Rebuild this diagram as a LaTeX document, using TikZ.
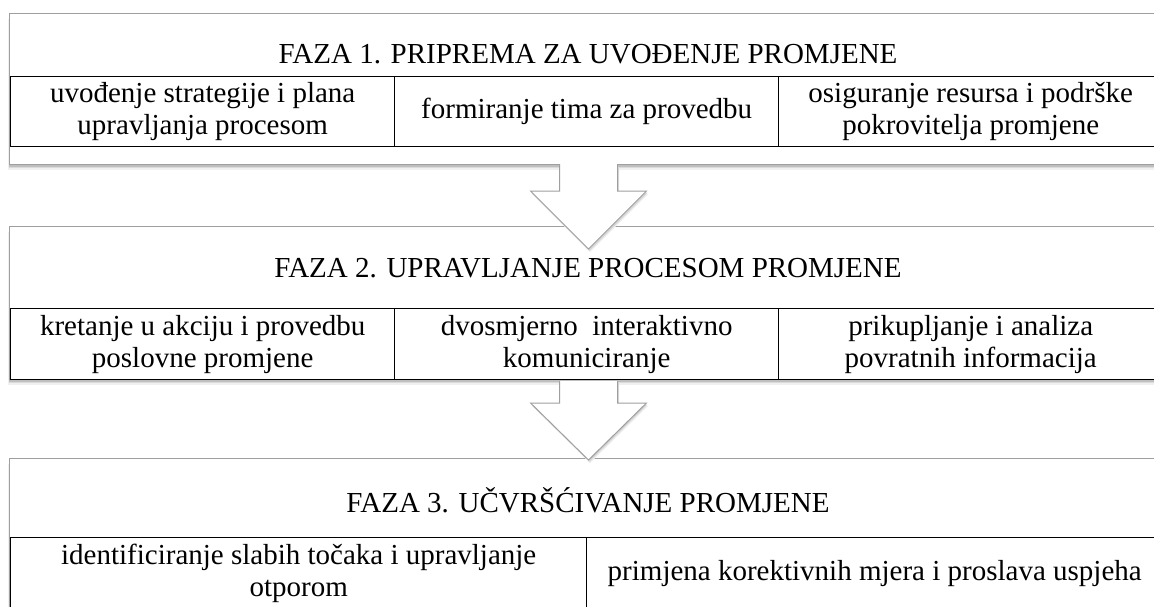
\documentclass[tikz,border=0pt]{standalone}
\usepackage{fontspec}
\setmainfont{Liberation Serif}
\usetikzlibrary{calc}

\tikzset{
  softshadow/.style={
    preaction={fill=gray!12, transform canvas={xshift=-1.5pt,yshift=-5pt}},
    preaction={fill=gray!28, transform canvas={xshift=-1pt,yshift=-3.5pt}},
    preaction={fill=gray!50, transform canvas={xshift=-0.5pt,yshift=-2pt}}},
  phase/.style={softshadow, draw=gray!75, line width=1pt, fill=white, anchor=north west, inner sep=0pt},
  head/.style={inner sep=0pt, font=\fontsize{29}{32}\selectfont},
  cell/.style={draw=black, line width=1.4pt, fill=white, anchor=north west, inner sep=0pt,
    align=center, minimum height=71pt, font=\fontsize{29}{32}\selectfont},
  blockarrow/.style={draw=gray!75, line width=1pt, fill=white, line join=miter,
    preaction={fill=gray!15, transform canvas={xshift=1.5pt,yshift=-3pt}},
    preaction={fill=gray!35, transform canvas={xshift=1pt,yshift=-1.5pt}}}
}

\begin{document}
\begin{tikzpicture}[x=1pt,y=-1pt]
\clip (0,0) rectangle (1154,606);
\fill[white] (0,0) rectangle (1154,606);

% faza 1
\node[phase, minimum width=1158pt, minimum height=151pt] (box1) at (9,13) {};
\node[head] (head1) at (588,54) {FAZA 1. PRIPREMA ZA UVOĐENJE PROMJENE};
\node[cell, minimum width=384pt, minimum height=70pt] (c11) at (10,76) {uvođenje strategije i plana\\upravljanja procesom};
\node[cell, minimum width=384pt, minimum height=70pt] (c12) at (394,76) {formiranje tima za provedbu};
\node[cell, minimum width=384pt, minimum height=70pt] (c13) at (778,76) {osiguranje resursa i podrške\\pokrovitelja promjene};

% faza 2
\node[phase, minimum width=1158pt, minimum height=153pt] (box2) at (9,226) {};
\node[head] (head2) at (588,268) {FAZA 2. UPRAVLJANJE PROCESOM PROMJENE};
\node[cell, minimum width=384pt] (c21) at (10,308) {kretanje u akciju i provedbu\\poslovne promjene};
\node[cell, minimum width=384pt] (c22) at (394,308) {dvosmjerno~ interaktivno\\komuniciranje};
\node[cell, minimum width=384pt] (c23) at (778,308) {prikupljanje i analiza\\povratnih informacija};

% faza 3
\node[phase, minimum width=1158pt, minimum height=150pt] (box3) at (9,458) {};
\node[head] (head3) at (588,500) {FAZA 3. UČVRŠĆIVANJE PROMJENE};
\node[cell, minimum width=576pt] (c31) at (10,537) {identificiranje slabih točaka i upravljanje\\otporom};
\node[cell, minimum width=576pt] (c32) at (586,537) {primjena korektivnih mjera i proslava uspjeha};

% strelice
\foreach \from/\top/\hd/\tip in {box1/-1/26/84, box2/1/23/80}{
  \filldraw[blockarrow] ($(\from.south)+(-29,\top)$) -- ($(\from.south)+(-29,\hd)$)
    -- ($(\from.south)+(-58,\hd)$) -- ($(\from.south)+(0,\tip)$)
    -- ($(\from.south)+(58,\hd)$) -- ($(\from.south)+(29,\hd)$)
    -- ($(\from.south)+(29,\top)$);
}

\end{tikzpicture}
\end{document}
